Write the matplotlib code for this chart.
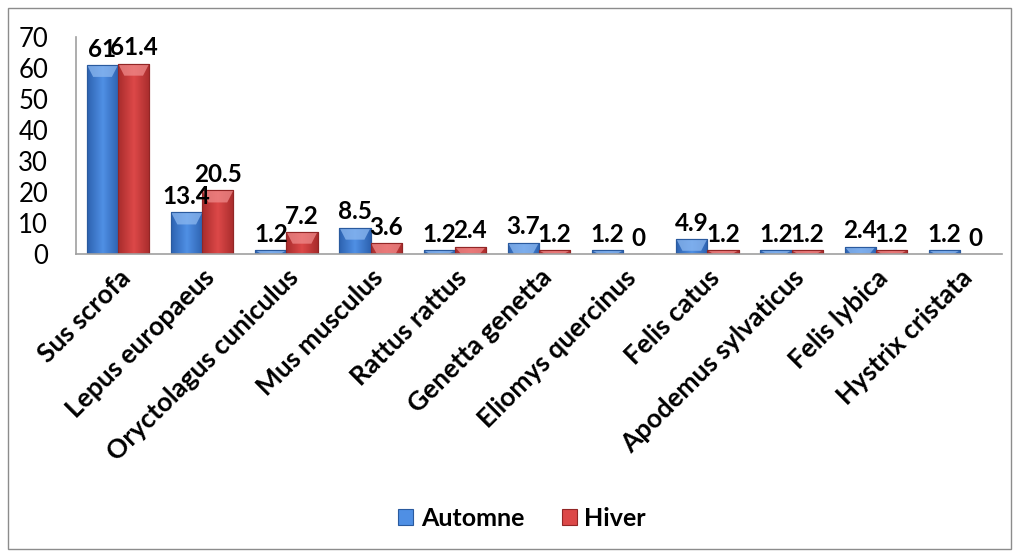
import matplotlib
matplotlib.use("Agg")
import matplotlib.pyplot as plt
import numpy as np
from matplotlib.patches import Rectangle, Polygon
from matplotlib.colors import LinearSegmentedColormap

plt.rcParams['font.family'] = ['Lato', 'DejaVu Sans']

species = ["Sus scrofa", "Lepus europaeus", "Oryctolagus cuniculus", "Mus musculus",
           "Rattus rattus", "Genetta genetta", "Eliomys quercinus", "Felis catus",
           "Apodemus sylvaticus", "Felis lybica", "Hystrix cristata"]
automne = [61, 13.4, 1.2, 8.5, 1.2, 3.7, 1.2, 4.9, 1.2, 2.4, 1.2]
hiver = [61.4, 20.5, 7.2, 3.6, 2.4, 1.2, 0, 1.2, 1.2, 1.2, 0]
yticks = [0, 10, 20, 30, 40, 50, 60, 70]

fig = plt.figure(figsize=(10.19, 5.54), dpi=100)
fig.patches.append(Rectangle((8 / 1019, 5 / 554), 1003 / 1019, 541 / 554,
                             transform=fig.transFigure, fill=False,
                             edgecolor="#8c8c8c", linewidth=1.0))

ax = fig.add_axes([76 / 1019, 1 - 254 / 554, 926 / 1019, 217 / 554])
x = np.arange(len(species))
w = 0.37

def fmt(v):
    return f"{v:g}"

styles = {
    "Automne": dict(dark="#2d62b0", light="#4f8fe4", top="#8cb8f0", edge="#2a5a9e"),
    "Hiver": dict(dark="#a82c2c", light="#dc4848", top="#ef8a8a", edge="#922626"),
}

b1 = ax.bar(x - w / 2, automne, w, color=styles["Automne"]["light"],
            edgecolor=styles["Automne"]["edge"], linewidth=0.8, label="Automne")
b2 = ax.bar(x + w / 2, hiver, w, color=styles["Hiver"]["light"],
            edgecolor=styles["Hiver"]["edge"], linewidth=0.8, label="Hiver")

ax.set_xlim(-0.5, len(species) - 0.5)
ax.set_ylim(0, 70)

# shaded fill and bevelled top for each bar
grad = np.linspace(0, 1, 64)
grad = 1 - np.abs(grad - 0.5) * 2
grad = grad[np.newaxis, :]
bevel = 12 / 217 * 70
for bars, key in ((b1, "Automne"), (b2, "Hiver")):
    st = styles[key]
    cmap = LinearSegmentedColormap.from_list(key, [st["dark"], st["light"]])
    for r in bars:
        h = r.get_height()
        if h <= 0:
            continue
        x0, bw = r.get_x(), r.get_width()
        im = ax.imshow(grad, cmap=cmap, extent=[x0, x0 + bw, 0, h],
                       aspect="auto", zorder=2.1, interpolation="bilinear")
        im.set_clip_path(r)
        bv = min(bevel, h)
        tri = Polygon([(x0, h), (x0 + bw, h), (x0 + bw * 0.8, h - bv),
                       (x0 + bw * 0.2, h - bv)], closed=True,
                      facecolor=st["top"], edgecolor="none", alpha=0.75, zorder=2.2)
        ax.add_patch(tri)
        tri.set_clip_path(r)
        ax.add_patch(Rectangle((x0, 0), bw, h, fill=False, edgecolor=st["edge"],
                               linewidth=0.8, zorder=2.3))

for bars, vals in ((b1, automne), (b2, hiver)):
    for r, v in zip(bars, vals):
        ax.annotate(fmt(v), (r.get_x() + r.get_width() / 2, v),
                    xytext=(0, 3), textcoords="offset points",
                    ha="center", va="bottom", fontsize=17.5, fontweight="bold",
                    zorder=3)

ax.set_xlim(-0.5, len(species) - 0.5)
ax.set_ylim(0, 70)
ax.set_yticks(yticks)
ax.set_yticklabels([str(t) for t in yticks], fontsize=18.5)
ax.set_xticks(x)
ax.set_xticklabels(species, rotation=45, ha="right", rotation_mode="anchor",
                   fontsize=19, fontweight="bold")
ax.tick_params(axis="x", length=0, pad=8)
ax.tick_params(axis="y", length=0, pad=20)
for s in ("top", "right"):
    ax.spines[s].set_visible(False)
for s in ("left", "bottom"):
    ax.spines[s].set_color("#a0a0a0")
    ax.spines[s].set_linewidth(1.2)

fig.legend(handles=[b1, b2], loc="center", bbox_to_anchor=(522 / 1019, 1 - 518 / 554),
           ncol=2, frameon=False, prop={"size": 18, "weight": "bold"},
           handlelength=0.6, handleheight=0.6, handletextpad=0.3, columnspacing=1.5)

fig.savefig("out.png", dpi=100)
